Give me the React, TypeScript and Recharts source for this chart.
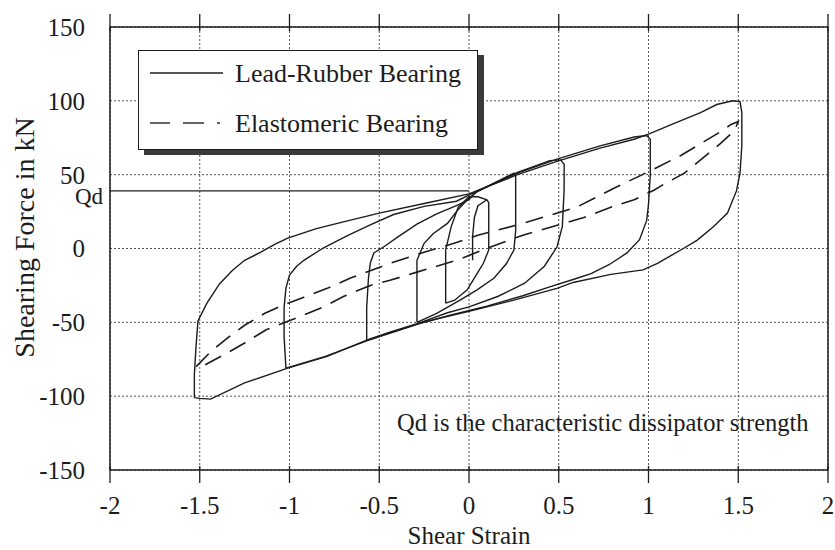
import React from 'react';
import { LineChart, Line, XAxis, YAxis, CartesianGrid, ReferenceLine } from 'recharts';

type Pt = [number, number];

const strainTicks = [-2, -1.5, -1, -0.5, 0, 0.5, 1, 1.5, 2];
const forceTicks = [-150, -100, -50, 0, 50, 100, 150];
const qdForce = 39;
const qdStrainEnd = 0;

// lead-rubber loops: up the loading side, then back down the unloading side
const lead150: Pt[] = [
  [-1.53, -101], [-1.53, -85], [-1.52, -65], [-1.51, -49], [-1.46, -37], [-1.39, -24], [-1.32, -15],
  [-1.25, -8], [-1.16, -2.5], [-1.08, 3], [-1.01, 7], [-0.85, 13.5], [-0.7, 18], [-0.5, 24],
  [-0.25, 30.5], [0, 37], [0.27, 50], [0.49, 59], [0.73, 68], [0.92, 74], [1.0, 77.5], [1.14, 84.5],
  [1.29, 92], [1.38, 97.5], [1.47, 100], [1.51, 99.5], [1.52, 92], [1.52, 70], [1.51, 51], [1.49, 39],
  [1.44, 24], [1.36, 14.5], [1.27, 5.5], [1.18, -1], [1.05, -10], [0.97, -14.5], [0.79, -17.5],
  [0.58, -23], [0.49, -27], [0.25, -35], [0, -42.5], [-0.26, -50], [-0.57, -62], [-0.79, -73],
  [-1.01, -81], [-1.25, -91], [-1.44, -102], [-1.5, -101.5], [-1.53, -101],
];
const lead100: Pt[] = [
  [-1.02, -81], [-1.03, -60], [-1.03, -40], [-1.02, -27], [-1.0, -18], [-0.96, -12], [-0.92, -8],
  [-0.81, 0.5], [-0.68, 8.5], [-0.55, 16], [-0.42, 23], [-0.25, 28.5], [-0.07, 32], [0.03, 38],
  [0.27, 51], [0.49, 60.5], [0.73, 69.5], [0.92, 75.5], [0.99, 76.5], [1.01, 74], [1.01, 50],
  [1.0, 30], [0.99, 19], [0.95, 6], [0.88, -3], [0.78, -11], [0.68, -17], [0.58, -21], [0.45, -26],
  [0.3, -32], [0.1, -39], [-0.1, -45], [-0.28, -51], [-0.57, -62.5], [-0.8, -73], [-1.02, -81],
];
const lead050: Pt[] = [
  [-0.57, -62], [-0.57, -40], [-0.56, -20], [-0.55, -10], [-0.53, -3], [-0.47, 1.5], [-0.4, 7.5],
  [-0.29, 16.5], [-0.18, 23.5], [-0.07, 29], [0, 33], [0.04, 38.5], [0.27, 51.5], [0.45, 59.5],
  [0.51, 60], [0.53, 57], [0.53, 40], [0.52, 15], [0.49, 1], [0.42, -12], [0.31, -23.5],
  [0.16, -32.5], [0, -39.5], [-0.12, -43.5], [-0.28, -50.5], [-0.45, -57], [-0.57, -62],
];
const lead025: Pt[] = [
  [-0.29, -50], [-0.29, -30], [-0.29, -8], [-0.25, 3.5], [-0.2, 10], [-0.12, 17], [-0.07, 25],
  [-0.01, 33], [0.04, 38], [0.15, 45], [0.25, 51], [0.26, 49], [0.26, 30], [0.26, 12], [0.25, -1],
  [0.21, -10], [0.14, -20], [0.045, -28], [-0.05, -35], [-0.18, -44], [-0.29, -50],
];
const lead012: Pt[] = [
  [-0.13, -37], [-0.13, -15], [-0.13, -1], [-0.1, 14.5], [-0.06, 28], [0, 35], [0.05, 35], [0.1, 33],
  [0.11, 31], [0.11, 10], [0.11, -1], [0.08, -10], [0.045, -17], [-0.01, -28], [-0.08, -35], [-0.13, -37],
];
const lead005: Pt[] = [
  [0.1, 33], [0.05, 29], [0.03, 21], [0.02, 8], [0.02, -8],
];

// elastomeric bearing: one narrow loop
const elasto150: Pt[] = [
  [-1.52, -80], [-1.44, -70], [-1.35, -61], [-1.25, -52], [-1.14, -44], [-1.03, -38], [-0.92, -33],
  [-0.79, -27], [-0.66, -20], [-0.55, -15], [-0.44, -10], [-0.25, -2.5], [-0.07, 4], [0.05, 9],
  [0.16, 12.5], [0.27, 16], [0.45, 22.5], [0.6, 28], [0.81, 41], [0.94, 48.5], [1.05, 55], [1.18, 63],
  [1.29, 71], [1.4, 79], [1.46, 84], [1.5, 86], [1.48, 80], [1.4, 71], [1.29, 60], [1.2, 51],
  [1.1, 44.5], [1.03, 39.5], [0.92, 33], [0.79, 28], [0.64, 21], [0.53, 17], [0.3, 9], [0.12, 1],
  [-0.07, -8], [-0.18, -12], [-0.29, -16], [-0.44, -21.5], [-0.55, -25], [-0.7, -32.5], [-0.81, -39.5],
  [-0.96, -47], [-1.13, -55], [-1.25, -64], [-1.35, -71], [-1.52, -82],
];

const leadLoops = [lead150, lead100, lead050, lead025, lead012, lead005];
const elastoLoops = [elasto150];

const W = 835;
const H = 550;
const PLOT_TOP = 27;
const PLOT_BOTTOM = 470;
const INK = '#1c1c1c';
const FONT = '"Liberation Serif", "Times New Roman", serif';

const toPts = (a: Pt[]) => a.map(([x, y]) => ({ x, y }));

function StrainTick({ x, payload }: any) {
  return (
    <g>
      <line x1={x} x2={x} y1={PLOT_BOTTOM - 4} y2={PLOT_BOTTOM + 13} stroke={INK} strokeWidth={1.3} />
      <line x1={x} x2={x} y1={PLOT_TOP - 13} y2={PLOT_TOP + 4} stroke={INK} strokeWidth={1.3} />
      <text x={x} y={PLOT_BOTTOM + 35} dy="0.35em" textAnchor="middle" fill={INK} fontSize={25} fontFamily={FONT}>
        {String(payload.value)}
      </text>
    </g>
  );
}

// y title sits a little above the plot's middle in the original
function ForceTitle({ viewBox }: any) {
  const cx = 24;
  const cy = viewBox.y + viewBox.height / 2 - 11;
  return (
    <text
      x={cx}
      y={cy}
      dy="0.35em"
      transform={`rotate(-90 ${cx} ${cy})`}
      textAnchor="middle"
      fill={INK}
      fontSize={28}
      fontFamily={FONT}
    >
      Shearing Force in kN
    </text>
  );
}

function QdLabel({ viewBox }: any) {
  return (
    <text x={viewBox.x - 7} y={viewBox.y + 5} dy="0.35em" textAnchor="end" fill={INK} fontSize={23} fontFamily={FONT}>
      Qd
    </text>
  );
}

export default function App() {
  return (
    <div style={{ position: 'absolute', left: 0, top: 0, width: W, height: H, background: '#fff', fontFamily: FONT }}>
      <LineChart width={W} height={H} margin={{ top: PLOT_TOP, right: 7, bottom: 0, left: 0 }}>
        <CartesianGrid stroke="#555" strokeDasharray="2 2" strokeWidth={1} />
        <XAxis
          dataKey="x"
          type="number"
          domain={[-2, 2]}
          ticks={strainTicks}
          allowDataOverflow
          height={80}
          tickLine={false}
          tickSize={0}
          tickMargin={0}
          tick={<StrainTick />}
          axisLine={{ stroke: INK, strokeWidth: 1.5 }}
          label={{ value: 'Shear Strain', position: 'insideBottom', offset: 6, fill: INK, fontSize: 25, fontFamily: FONT }}
        />
        <YAxis
          type="number"
          domain={[-150, 150]}
          ticks={forceTicks}
          allowDataOverflow
          width={110}
          tickLine={false}
          tickSize={0}
          tickMargin={25}
          tick={{ fill: INK, fontSize: 25, fontFamily: FONT }}
          axisLine={{ stroke: INK, strokeWidth: 1.5 }}
          label={<ForceTitle />}
        />
        <ReferenceLine y={150} stroke={INK} strokeWidth={1.5} />
        <ReferenceLine x={2} stroke={INK} strokeWidth={1.5} />
        <ReferenceLine
          segment={[{ x: -2, y: qdForce }, { x: qdStrainEnd, y: qdForce }]}
          stroke={INK}
          strokeWidth={1.4}
          label={<QdLabel />}
        />
        {leadLoops.map((loop, i) => (
          <Line
            key={'lead' + i}
            data={toPts(loop)}
            dataKey="y"
            type="linear"
            stroke={INK}
            strokeWidth={1.4}
            dot={false}
            activeDot={false}
            isAnimationActive={false}
          />
        ))}
        {elastoLoops.map((loop, i) => (
          <Line
            key={'elasto' + i}
            data={toPts(loop)}
            dataKey="y"
            type="linear"
            stroke={INK}
            strokeWidth={1.6}
            strokeDasharray="18 10"
            dot={false}
            activeDot={false}
            isAnimationActive={false}
          />
        ))}
      </LineChart>

      {/* Legend */}
      <div
        style={{
          position: 'absolute',
          left: 138,
          top: 50,
          width: 340,
          height: 100,
          boxSizing: 'border-box',
          border: `1.5px solid ${INK}`,
          boxShadow: '6px 5px 0 #3a3a3a',
          background: '#fff',
        }}
      >
        <svg width={337} height={97} style={{ display: 'block' }}>
          <line x1={11} x2={84} y1={22} y2={22} stroke={INK} strokeWidth={1.3} />
          <text x={96} y={22} dy="0.35em" fill={INK} fontSize={26} fontFamily={FONT}>Lead-Rubber Bearing</text>
          <line x1={11} x2={90} y1={72} y2={72} stroke="#333" strokeWidth={1.4} strokeDasharray="20 13 21 13 3 40" />
          <text x={96} y={72} dy="0.35em" fill={INK} fontSize={26} fontFamily={FONT}>Elastomeric Bearing</text>
        </svg>
      </div>

      <div
        style={{
          position: 'absolute',
          left: 397,
          top: 410,
          fontSize: 24.5,
          lineHeight: '26px',
          color: INK,
          whiteSpace: 'nowrap',
        }}
      >
        Qd is the characteristic dissipator strength
      </div>
    </div>
  );
}
